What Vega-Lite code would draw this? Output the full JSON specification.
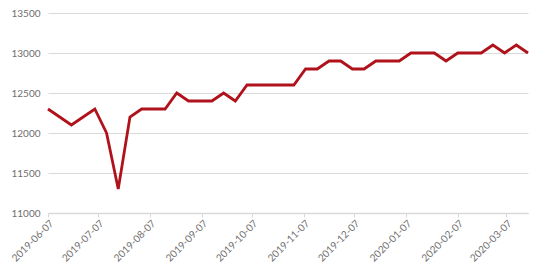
{
  "$schema": "https://vega.github.io/schema/vega-lite/v6.json",
  "width": 480,
  "height": 200,
  "autosize": {"type": "none"},
  "padding": {"left": 48, "top": 13, "right": 22, "bottom": 61},
  "background": "white",
  "config": {"view": {"stroke": null}, "font": "Lato"},
  "data": {"values": [
    {"date": "2019-06-07", "price": 12300},
    {"date": "2019-06-14", "price": 12200},
    {"date": "2019-06-21", "price": 12100},
    {"date": "2019-06-28", "price": 12200},
    {"date": "2019-07-05", "price": 12300},
    {"date": "2019-07-12", "price": 12000},
    {"date": "2019-07-19", "price": 11300},
    {"date": "2019-07-26", "price": 12200},
    {"date": "2019-08-02", "price": 12300},
    {"date": "2019-08-09", "price": 12300},
    {"date": "2019-08-16", "price": 12300},
    {"date": "2019-08-23", "price": 12500},
    {"date": "2019-08-30", "price": 12400},
    {"date": "2019-09-06", "price": 12400},
    {"date": "2019-09-13", "price": 12400},
    {"date": "2019-09-20", "price": 12500},
    {"date": "2019-09-27", "price": 12400},
    {"date": "2019-10-04", "price": 12600},
    {"date": "2019-10-11", "price": 12600},
    {"date": "2019-10-18", "price": 12600},
    {"date": "2019-10-25", "price": 12600},
    {"date": "2019-11-01", "price": 12600},
    {"date": "2019-11-08", "price": 12800},
    {"date": "2019-11-15", "price": 12800},
    {"date": "2019-11-22", "price": 12900},
    {"date": "2019-11-29", "price": 12900},
    {"date": "2019-12-06", "price": 12800},
    {"date": "2019-12-13", "price": 12800},
    {"date": "2019-12-20", "price": 12900},
    {"date": "2019-12-27", "price": 12900},
    {"date": "2020-01-03", "price": 12900},
    {"date": "2020-01-10", "price": 13000},
    {"date": "2020-01-17", "price": 13000},
    {"date": "2020-01-24", "price": 13000},
    {"date": "2020-01-31", "price": 12900},
    {"date": "2020-02-07", "price": 13000},
    {"date": "2020-02-14", "price": 13000},
    {"date": "2020-02-21", "price": 13000},
    {"date": "2020-02-28", "price": 13100},
    {"date": "2020-03-06", "price": 13000},
    {"date": "2020-03-13", "price": 13100},
    {"date": "2020-03-20", "price": 13000}
  ]},
  "mark": {"type": "line", "color": "#B0121B", "strokeWidth": 2.8, "strokeJoin": "miter"},
  "encoding": {
    "x": {
      "field": "date",
      "type": "temporal",
      "scale": {"type": "utc", "domain": [{"year": 2019, "month": 6, "date": 7, "utc": true}, {"year": 2020, "month": 3, "date": 20, "utc": true}]},
      "axis": {
        "title": null,
        "values": [
          {"year": 2019, "month": 6, "date": 7, "utc": true},
          {"year": 2019, "month": 7, "date": 7, "utc": true},
          {"year": 2019, "month": 8, "date": 7, "utc": true},
          {"year": 2019, "month": 9, "date": 7, "utc": true},
          {"year": 2019, "month": 10, "date": 7, "utc": true},
          {"year": 2019, "month": 11, "date": 7, "utc": true},
          {"year": 2019, "month": 12, "date": 7, "utc": true},
          {"year": 2020, "month": 1, "date": 7, "utc": true},
          {"year": 2020, "month": 2, "date": 7, "utc": true},
          {"year": 2020, "month": 3, "date": 7, "utc": true}
        ],
        "format": "%Y-%m-%d",
        "labelAngle": -45,
        "labelAlign": "right",
        "labelBaseline": "top",
        "labelFontSize": 10,
        "labelColor": "#6E6E6E",
        "labelPadding": 1,
        "grid": false,
        "domain": true,
        "domainColor": "#D9D9D9",
        "domainWidth": 1.5,
        "ticks": true,
        "tickColor": "#D9D9D9",
        "tickSize": 4,
        "labelOverlap": false,
        "labelBound": false,
        "labelFlush": false
      }
    },
    "y": {
      "field": "price",
      "type": "quantitative",
      "scale": {"domain": [11000, 13500], "nice": false, "zero": false},
      "axis": {
        "title": null,
        "values": [11000, 11500, 12000, 12500, 13000, 13500],
        "format": "d",
        "labelFontSize": 10,
        "labelColor": "#6E6E6E",
        "labelPadding": 8,
        "domain": false,
        "ticks": false,
        "grid": true,
        "gridColor": "#D9D9D9",
        "gridWidth": 1.2
      }
    }
  }
}
